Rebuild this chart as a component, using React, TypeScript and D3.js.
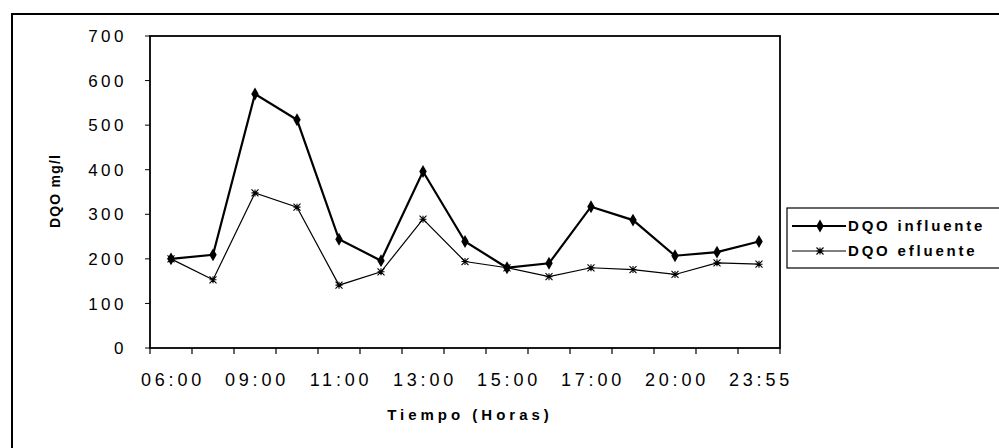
import * as d3 from 'd3'

// Horas de muestreo (solo se rotulan una de cada dos)
const horas = [
  '06:00', '07:30', '09:00', '10:00', '11:00', '12:00', '13:00', '14:00',
  '15:00', '16:00', '17:00', '18:30', '20:00', '22:00', '23:55',
]
const horasRotuladas = ['06:00', '09:00', '11:00', '13:00', '15:00', '17:00', '20:00', '23:55']
const dqoInfluente = [200, 209, 570, 512, 244, 196, 396, 239, 180, 190, 317, 287, 207, 215, 239]
const dqoEfluente = [200, 153, 348, 316, 141, 171, 289, 194, 180, 160, 180, 176, 165, 191, 188]
const yTicks = [0, 100, 200, 300, 400, 500, 600, 700]
const series = [
  { name: 'DQO influente', values: dqoInfluente, width: 2.2, marker: 'diamond' },
  { name: 'DQO efluente', values: dqoEfluente, width: 1.2, marker: 'star' },
]

const W = 999
const H = 448
const plot = { left: 150, right: 780, top: 36, bottom: 348 }
const font = '"Liberation Sans", Arial, sans-serif'

const starPath = (r: number) =>
  `M0,${-r}L0,${r}M${-r},${-r}L${r},${r}M${-r},${r}L${r},${-r}M${-r},0L${r},0`

function Marker({ type, x, y }: { type: string; x: number; y: number }) {
  if (type === 'diamond') {
    const d = d3.symbol(d3.symbolDiamond, 48)()
    return <path d={d || ''} transform={`translate(${x},${y})`} fill="#000" />
  }
  return (
    <path d={starPath(3.5)} transform={`translate(${x},${y})`} stroke="#000" strokeWidth={1.1} fill="none" />
  )
}

export default function App() {
  const x = d3.scaleBand<string>().domain(horas).range([plot.left, plot.right]).padding(0)
  const xc = (h: string) => (x(h) ?? 0) + x.bandwidth() / 2
  const y = d3.scaleLinear().domain([0, 700]).range([plot.bottom, plot.top])

  const line = d3
    .line<number>()
    .x((_, i) => xc(horas[i]))
    .y((d) => y(d))

  // bordes de las categorias para las marcas del eje X
  const bordes = horas.map((h) => x(h) ?? 0).concat([plot.right])

  return (
    <svg
      width={W}
      height={H}
      style={{ position: 'absolute', left: 0, top: 0, background: '#fff' }}
      fontFamily={font}
    >
      {/* marco exterior */}
      <rect x={12} y={14} width={1000} height={460} fill="none" stroke="#000" strokeWidth={2} />

      {/* area del grafico */}
      <rect
        x={plot.left}
        y={plot.top}
        width={plot.right - plot.left}
        height={plot.bottom - plot.top}
        fill="none"
        stroke="#000"
        strokeWidth={1.8}
      />

      {/* eje Y */}
      {yTicks.map((t) => (
        <g key={t}>
          <line x1={plot.left - 5} x2={plot.left} y1={y(t)} y2={y(t)} stroke="#000" />
          <text
            x={127}
            y={y(t)}
            dy="0.36em"
            textAnchor="end"
            fontSize={17}
            letterSpacing={3.5}
            fill="#000"
          >
            {t}
          </text>
        </g>
      ))}
      <text
        transform={`translate(60,191) rotate(-90)`}
        textAnchor="middle"
        fontSize={14}
        fontWeight="bold"
        letterSpacing={1.2}
        fill="#000"
      >
        DQO mg/l
      </text>

      {/* eje X */}
      {bordes.map((bx, i) => (
        <line key={i} x1={bx} x2={bx} y1={plot.bottom} y2={plot.bottom + 6} stroke="#000" strokeWidth={1.2} />
      ))}
      {horasRotuladas.map((h) => (
        <text
          key={h}
          x={xc(h) + 2}
          y={386}
          textAnchor="middle"
          fontSize={18}
          letterSpacing={3.8}
          fill="#000"
        >
          {h}
        </text>
      ))}
      <text x={470} y={420} textAnchor="middle" fontSize={15} fontWeight="bold" letterSpacing={4} fill="#000">
        Tiempo (Horas)
      </text>

      {/* series */}
      {series.map((s) => (
        <g key={s.name}>
          <path d={line(s.values) || ''} fill="none" stroke="#000" strokeWidth={s.width} />
          {s.values.map((v, i) => (
            <Marker key={i} type={s.marker} x={xc(horas[i])} y={y(v)} />
          ))}
        </g>
      ))}

      {/* leyenda */}
      <rect x={787} y={208} width={220} height={60} fill="#fff" stroke="#000" strokeWidth={1.2} />
      {series.map((s, i) => {
        const ly = 226 + i * 25
        return (
          <g key={s.name}>
            <line x1={792} x2={846} y1={ly} y2={ly} stroke="#000" strokeWidth={s.width} />
            <Marker type={s.marker} x={820} y={ly} />
            <text x={848} y={ly} dy="0.36em" fontSize={15} fontWeight="bold" letterSpacing={2.8} fill="#000">
              {s.name}
            </text>
          </g>
        )
      })}
    </svg>
  )
}
